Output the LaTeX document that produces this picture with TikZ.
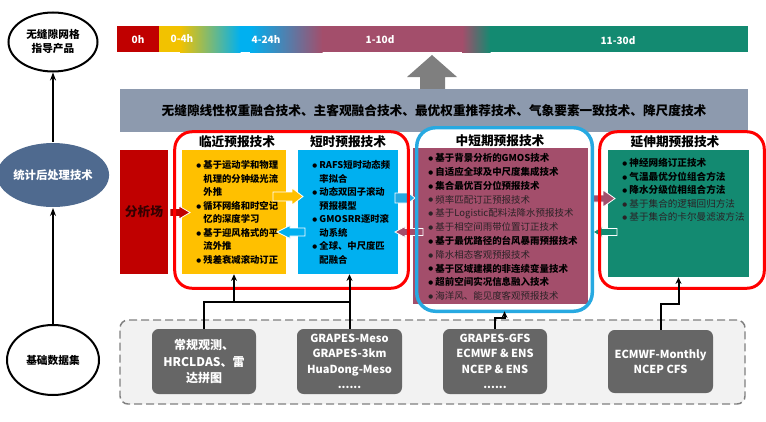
\documentclass[tikz,border=0pt]{standalone}
\usepackage{fontspec}
\setmainfont{Noto Sans CJK SC}
\newfontfamily\dvfont{DejaVu Sans}
\usetikzlibrary{arrows.meta,shapes.geometric,fit}
\definecolor{cRed}{HTML}{C00000}
\definecolor{fRed}{HTML}{FF0000}
\definecolor{cYel}{HTML}{FFC000}
\definecolor{cYelB}{HTML}{F2C200}
\definecolor{cBlue}{HTML}{00B0F0}
\definecolor{fBlue}{HTML}{27A9E1}
\definecolor{cPink}{HTML}{A34E6B}
\definecolor{cTeal}{HTML}{138A71}
\definecolor{cBand}{HTML}{8D9AAE}
\definecolor{cSlate}{HTML}{4F6A8F}
\definecolor{cBox}{HTML}{666666}
\definecolor{cDash}{HTML}{7F7F7F}
\definecolor{cLight}{HTML}{F2F2F2}
\definecolor{cArrow}{HTML}{7F7F7F}
\definecolor{cNorm}{HTML}{2A2226}
\newcommand\bu{\makebox[5.4pt][l]{\raisebox{0.12em}{\dvfont\fontsize{4.2}{4.2}\selectfont ●}}}
\newcommand\bi{\hspace*{5.4pt}}
\newcommand\blkarr[7]{%
  \filldraw[fill=#1, draw=white, line width=0.6pt] (#2,{#4-#5}) -- ({#3-#7},{#4-#5}) -- ({#3-#7},{#4-#6}) -- (#3,#4) -- ({#3-#7},{#4+#6}) -- ({#3-#7},{#4+#5}) -- (#2,{#4+#5}) -- cycle;}
\begin{document}
\begin{tikzpicture}[x=0.75pt,y=-0.75pt,
  box/.style={inner sep=0pt},
  ell/.style={ellipse, draw=black, line width=1.5pt, fill=white, inner sep=0pt, align=center, font=\bfseries\fontsize{8}{10.5}\selectfont},
  larr/.style={line width=1.1pt, -{Stealth[length=6pt,width=4.5pt]}},
  conn/.style={line width=1.5pt, black},
  conna/.style={conn, -{Stealth[length=5pt,width=4.5pt]}},
  ttl/.style={font=\bfseries\fontsize{9.5}{11}\selectfont},
  lst/.style={anchor=west, align=left, inner sep=0pt},
  barlbl/.style={text=white, font=\bfseries\fontsize{7.5}{9}\selectfont},
  gbox/.style={box, fill=cBox, rounded corners=5pt, text=white, align=center, font=\bfseries\fontsize{8.3}{11.6}\selectfont}
]
\useasboundingbox (0,0) rectangle (766,421);

% ---------- left column ----------
\node[ell, minimum width=66.75pt, minimum height=44.25pt] (e1) at (53,42) {无缝隙网格\\指导产品};
\node[ell, draw=none, fill=cSlate, text=white, minimum width=69pt, minimum height=48pt, font=\bfseries\fontsize{8.5}{10.5}\selectfont] (e2) at (53,175) {统计后处理技术};
\node[ell, minimum width=69pt, minimum height=52.5pt] (e3) at (53,360) {基础数据集};
\draw[larr] (e3) -- (e2);
\draw[larr] (e2) -- (e1);

% ---------- time bar ----------
\fill[cRed] (117,26) rectangle (159.5,52);
\fill[cYelB] (159,26) rectangle (180.5,52);
\shade[left color=cYelB, right color=cBlue] (180,26) rectangle (240.5,52);
\fill[cBlue] (240,26) rectangle (250.5,52);
\shade[left color=cBlue, right color=cPink] (250,26) rectangle (322.5,52);
\fill[cPink] (322,26) rectangle (462.5,52);
\shade[left color=cPink, right color=cTeal] (462,26) rectangle (490.5,52);
\fill[cTeal] (490,26) rectangle (748,52);
\node[fit={(117,26) (748,52)}, box] (bar) {};
\node[barlbl] (t0) at (138,40) {0h};
\node[barlbl] (t1) at (182,39) {0-4h};
\node[barlbl] (t2) at (266,40) {4-24h};
\node[barlbl] (t3) at (380,40) {1-10d};
\node[barlbl] (t4) at (618,41) {11-30d};

% ---------- grey up arrow ----------
\fill[cArrow] (420,90) -- (420,77) -- (407,77) -- (432,55) -- (457,77) -- (445,77) -- (445,90) -- cycle;

% ---------- band ----------
\node[fit={(120,89) (748,132)}, box, fill=cBand] (band) {};
\node[font=\bfseries\fontsize{9.5}{11}\selectfont] (bandtxt) at (band.center) {无缝隙线性权重融合技术、主客观融合技术、最优权重推荐技术、气象要素一致技术、降尺度技术};

% ---------- frames (fill) ----------
\node[fit={(175,132) (408,288)}, box, fill=white, rounded corners=13pt] (fr1) {};
\node[fit={(417,128) (592,311)}, box, fill=white, rounded corners=14pt] (fr2) {};
\node[fit={(600,132) (764,288)}, box, fill=white, rounded corners=13pt] (fr3) {};

% ---------- inner boxes ----------
\node[fit={(120,150) (168,274)}, box, fill=cRed] (ana) {};
\node[font=\bfseries\fontsize{9.6}{11}\selectfont, text=black!72!cRed] at (ana.center) {分析场};
\node[fit={(182,150) (286,274)}, box, fill=cYel] (yel) {};
\node[fit={(298,150) (398,274)}, box, fill=cBlue] (blu) {};
\node[fit={(413,148) (588,304)}, box, fill=cPink] (pink) {};
\node[fit={(608,150) (749,277)}, box, fill=cTeal] (teal) {};

% titles
\node[ttl] (ti1) at (237,142) {临近预报技术};
\node[ttl] (ti2) at (348,142) {短时预报技术};
\node[ttl] (ti3) at (500,141) {中短期预报技术};
\node[ttl] (ti4) at (675,142) {延伸期预报技术};

% lists
\node[lst, font=\bfseries\fontsize{7}{10.1}\selectfont] (l1) at (196,212.5) {\bu 基于运动学和物理\\\bi 机理的分钟级光流\\\bi 外推\\\bu 循环网络和时空记\\\bi 忆的深度学习\\\bu 基于迎风格式的平\\\bi 流外推\\\bu 残差衰减滚动订正};
\node[lst, font=\bfseries\fontsize{7}{10.1}\selectfont] (l2) at (312,212.5) {\bu RAFS短时动态频\\\bi 率拟合\\\bu 动态双因子滚动\\\bi 预报模型\\\bu GMOSRR逐时滚\\\bi 动系统\\\bu 全球、中尺度匹\\\bi 配融合};
\node[lst, font=\fontsize{7.1}{10.35}\selectfont] (l3) at (428,227) {%
\textbf{\bu 基于背景分析的GMOS技术}\\
\textbf{\bu 自适应全球及中尺度集成技术}\\
\textbf{\bu 集合最优百分位预报技术}\\
\textcolor{cNorm}{\bu 频率匹配订正预报技术}\\
\textcolor{cNorm}{\bu 基于Logistic配料法降水预报技术}\\
\textcolor{cNorm}{\bu 基于相空间雨带位置订正技术}\\
\textbf{\bu 基于最优路径的台风暴雨预报技术}\\
\textcolor{cNorm}{\bu 降水相态客观预报技术}\\
\textbf{\bu 基于区域建模的非连续变量技术}\\
\textbf{\bu 超前空间实况信息融入技术}\\
\textcolor{cNorm}{\bu 海洋风、能见度客观预报技术}};
\node[lst, font=\fontsize{7.2}{10.1}\selectfont] (l4) at (622,190) {%
\textbf{\bu 神经网络订正技术}\\
\textbf{\bu 气温最优分位组合方法}\\
\textbf{\bu 降水分级位相组合方法}\\
\textcolor{cNorm}{\bu 基于集合的逻辑回归方法}\\
\textcolor{cNorm}{\bu 基于集合的卡尔曼滤波方法}};

% ---------- block arrows ----------
\blkarr{cRed}{170}{190}{212.5}{4}{6.5}{11}
\blkarr{cYel}{273}{303}{196.5}{4.5}{8.5}{11}
\blkarr{cBlue}{305}{277}{232}{4}{6.5}{-13}
\blkarr{fBlue}{395}{415}{198}{5}{6.5}{8}
\blkarr{cPink}{423}{395}{232}{3.5}{5.5}{-10}
\blkarr{cPink}{592}{615}{198.5}{3.5}{8.5}{12}
\blkarr{cTeal}{617}{593}{232}{3.5}{5.5}{-9}

% ---------- frames (stroke) ----------
\draw[fRed, line width=2.25pt, rounded corners=13pt] (fr1.south west) rectangle (fr1.north east);
\draw[fBlue, line width=2.6pt, rounded corners=14pt] (fr2.south west) rectangle (fr2.north east);
\draw[fRed, line width=2.25pt, rounded corners=13pt] (fr3.south west) rectangle (fr3.north east);

% ---------- data region ----------
\node[fit={(120,320) (745,404)}, box, fill=cLight, draw=cDash, line width=1.1pt, dash pattern=on 6pt off 3pt, rounded corners=6pt] (data) {};
\node[fit={(152,329) (256,394)}, gbox] (b1) {};
\node[gbox, fill=none, font=\bfseries\fontsize{9}{12.5}\selectfont] at (b1.center) {常规观测、\\HRCLDAS、雷\\达拼图};
\node[fit={(297,329) (402,394)}, gbox] (b2) {};
\node[gbox, fill=none] at (b2.center) {GRAPES-Meso\\GRAPES-3km\\HuaDong-Meso\\......};
\node[fit={(443,329) (547,394)}, gbox] (b3) {};
\node[gbox, fill=none] at (b3.center) {GRAPES-GFS\\ECMWF \& ENS\\NCEP \& ENS\\......};
\node[fit={(608,330) (713,393)}, gbox] (b4) {};
\node[gbox, fill=none] at (b4.center) {ECMWF-Monthly\\NCEP CFS};

% ---------- connectors ----------
\coordinate (h1) at (0,302);
\coordinate (h3) at (0,318);
\coordinate (h4) at (0,304);
\draw[conn] (b1.north) |- (b2.north |- h1);
\draw[conna] (yel.south |- h1) -- (yel.south);
\draw[conna] (b2.north) -- (b2.north |- blu.south);
\draw[conna] (b3.north) -- (b3.north |- h3) -| (fr2.south);
\draw[conna] (b4.north) -- (b4.north |- h4) -| (teal.south);
\end{tikzpicture}
\end{document}
